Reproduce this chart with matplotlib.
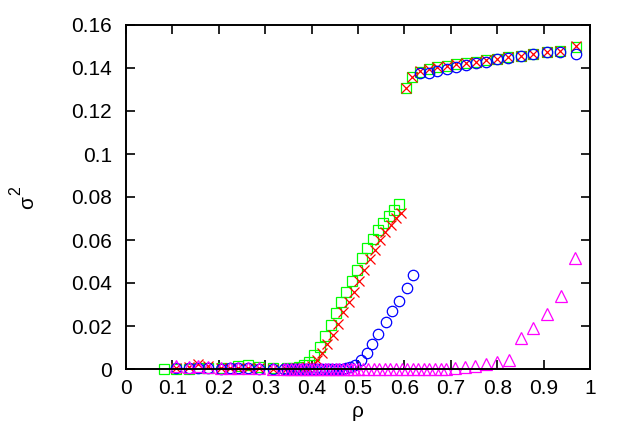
import matplotlib
matplotlib.use('Agg')
import matplotlib.pyplot as plt

plt.rcParams['font.family'] = ['Liberation Sans', 'DejaVu Sans']

# red crosses
red_rho = [0.108, 0.136, 0.155, 0.177, 0.205, 0.224, 0.242, 0.263, 0.287, 0.316,
           0.345, 0.357, 0.368, 0.380, 0.391,
           0.400, 0.411, 0.423, 0.434, 0.446, 0.457, 0.468, 0.480, 0.491, 0.502,
           0.514, 0.525, 0.537, 0.548, 0.559, 0.571, 0.582, 0.593,
           0.603, 0.617, 0.634, 0.652, 0.671, 0.691, 0.711, 0.733, 0.754, 0.776,
           0.799, 0.824, 0.851, 0.878, 0.907, 0.935, 0.970]
red_val = [0.0003, 0.0008, 0.0022, 0.0012, 0.0003, 0.0004, 0.0005, 0.0006, 0.0003, 0.0002,
           0.0001, 0.0002, 0.0003, 0.0005, 0.0008,
           0.0015, 0.0040, 0.0075, 0.0115, 0.0160, 0.0210, 0.0265, 0.0310, 0.0360, 0.0410,
           0.0460, 0.0510, 0.0555, 0.0600, 0.0635, 0.0670, 0.0700, 0.0726,
           0.1306, 0.1360, 0.1385, 0.1395, 0.1403, 0.1410, 0.1419, 0.1425, 0.1430, 0.1437,
           0.1443, 0.1450, 0.1457, 0.1465, 0.1473, 0.1480, 0.1500]

# green squares
green_rho = [0.082, 0.108, 0.136, 0.157, 0.177, 0.206, 0.242, 0.264, 0.287, 0.316,
             0.348, 0.360, 0.372, 0.383,
             0.395, 0.406, 0.418, 0.429, 0.441, 0.452, 0.463, 0.475, 0.486, 0.497,
             0.509, 0.520, 0.532, 0.543, 0.554, 0.566, 0.577, 0.588,
             0.603, 0.617, 0.634, 0.652, 0.671, 0.691, 0.711, 0.733, 0.754, 0.776,
             0.799, 0.824, 0.851, 0.878, 0.907, 0.935, 0.970]
green_val = [0.0, 0.0, 0.0002, 0.0003, 0.0003, 0.0005, 0.0012, 0.0020, 0.0008, 0.0005,
             0.0003, 0.0006, 0.0010, 0.0018,
             0.0034, 0.0065, 0.0104, 0.0155, 0.0205, 0.0259, 0.0310, 0.0360, 0.0408, 0.0460,
             0.0515, 0.0561, 0.0603, 0.0645, 0.0680, 0.0712, 0.0740, 0.0767,
             0.1306, 0.1360, 0.1383, 0.1394, 0.1403, 0.1409, 0.1419, 0.1425, 0.1429, 0.1437,
             0.1442, 0.1450, 0.1456, 0.1465, 0.1473, 0.1480, 0.1496]

# blue circles
blue_rho = [0.108, 0.136, 0.155, 0.177, 0.205, 0.224, 0.242, 0.263, 0.287, 0.316,
            0.340, 0.347, 0.355, 0.362, 0.370, 0.377, 0.385, 0.392, 0.400, 0.407,
            0.415, 0.422, 0.430, 0.437, 0.445, 0.452, 0.460, 0.467, 0.475, 0.482,
            0.494, 0.506, 0.519, 0.531, 0.544, 0.560, 0.573, 0.588, 0.605, 0.619,
            0.634, 0.652, 0.671, 0.691, 0.711, 0.733, 0.754, 0.776, 0.799, 0.824,
            0.851, 0.878, 0.907, 0.935, 0.970]
blue_val = [0.0003, 0.0004, 0.0006, 0.0004, 0.0002, 0.0003, 0.0003, 0.0004, 0.0002, 0.0002,
            0.0, 0.0, 0.0, 0.0, 0.0, 0.0, 0.0, 0.0, 0.0, 0.0,
            0.0, 0.0, 0.0, 0.0, 0.0, 0.0001, 0.0001, 0.0002, 0.0005, 0.0010,
            0.0019, 0.0042, 0.0073, 0.0115, 0.0163, 0.0220, 0.0271, 0.0318, 0.0375, 0.0437,
            0.1375, 0.1375, 0.1387, 0.1394, 0.1403, 0.1414, 0.1422, 0.1429, 0.1440, 0.1445,
            0.1456, 0.1465, 0.1473, 0.1476, 0.1465]

# magenta triangles
mag_rho = [0.108, 0.136, 0.155, 0.177, 0.205, 0.224, 0.242, 0.263, 0.287, 0.316,
           0.340, 0.348, 0.356, 0.364, 0.372, 0.380, 0.388, 0.396, 0.404, 0.412,
           0.420, 0.428, 0.436, 0.444, 0.452, 0.460, 0.468, 0.476, 0.484, 0.492,
           0.500, 0.510, 0.522, 0.534, 0.546, 0.558, 0.570, 0.582, 0.594, 0.606,
           0.618, 0.630, 0.642, 0.653, 0.666, 0.678, 0.690, 0.709, 0.731, 0.752,
           0.776, 0.800, 0.825, 0.851, 0.878, 0.907, 0.937, 0.968]
mag_val = [0.0012, 0.0008, 0.0012, 0.0008, 0.0004, 0.0004, 0.0004, 0.0004, 0.0003, 0.0002,
           0.0, 0.0, 0.0, 0.0, 0.0, 0.0, 0.0, 0.0, 0.0, 0.0,
           0.0, 0.0, 0.0, 0.0, 0.0, 0.0, 0.0, 0.0, 0.0, 0.0,
           0.0, 0.0, 0.0, 0.0, 0.0, 0.0, 0.0, 0.0, 0.0, 0.0,
           0.0, 0.0, 0.0, 0.0, 0.0, 0.0, 0.0001, 0.0005, 0.0011, 0.0014,
           0.0023, 0.0031, 0.0042, 0.0143, 0.0189, 0.0256, 0.0340, 0.0515]

x_ticks = [0, 0.1, 0.2, 0.3, 0.4, 0.5, 0.6, 0.7, 0.8, 0.9, 1]
x_labels = ['0', '0.1', '0.2', '0.3', '0.4', '0.5', '0.6', '0.7', '0.8', '0.9', '1']
y_ticks = [0, 0.02, 0.04, 0.06, 0.08, 0.1, 0.12, 0.14, 0.16]
y_labels = ['0', '0.02', '0.04', '0.06', '0.08', '0.1', '0.12', '0.14', '0.16']

fig = plt.figure(figsize=(6.26, 4.36), dpi=100)
ax = fig.add_axes([126/626, 1 - 369/436, 464/626, 344/436])

mew = 0.9
ax.plot(green_rho, green_val, 's', ms=7.5, mfc='none', mec='#00ff00', mew=mew, clip_on=False)
ax.plot(red_rho, red_val, 'x', ms=7.5, mec='#ff0000', mew=mew, clip_on=False)
ax.plot(blue_rho, blue_val, 'o', ms=7.5, mfc='none', mec='#0000ff', mew=mew, clip_on=False)
ax.plot(mag_rho, mag_val, '^', ms=8, mfc='none', mec='#ff00ff', mew=mew, clip_on=False)

ax.set_xlim(0, 1)
ax.set_ylim(0, 0.16)
ax.set_xticks(x_ticks)
ax.set_xticklabels(x_labels)
ax.set_yticks(y_ticks)
ax.set_yticklabels(y_labels)
ax.tick_params(direction='in', length=6.5, width=1.2, top=True, right=True,
               labelsize=15, colors='black')
ax.tick_params(axis='x', pad=7)
ax.tick_params(axis='y', pad=10)
for sp in ax.spines.values():
    sp.set_linewidth(1.4)

ax.set_xlabel('ρ', fontsize=15, labelpad=3)
# sigma^2 label, superscript nearly full size like gnuplot
fig.text(28/626, 1 - 203/436, 'σ', fontsize=15, rotation=90, ha='center', va='center')
fig.text(16/626, 1 - 191/436, '2', fontsize=11.5, rotation=90, ha='center', va='center')

fig.savefig('out.png', dpi=100)
